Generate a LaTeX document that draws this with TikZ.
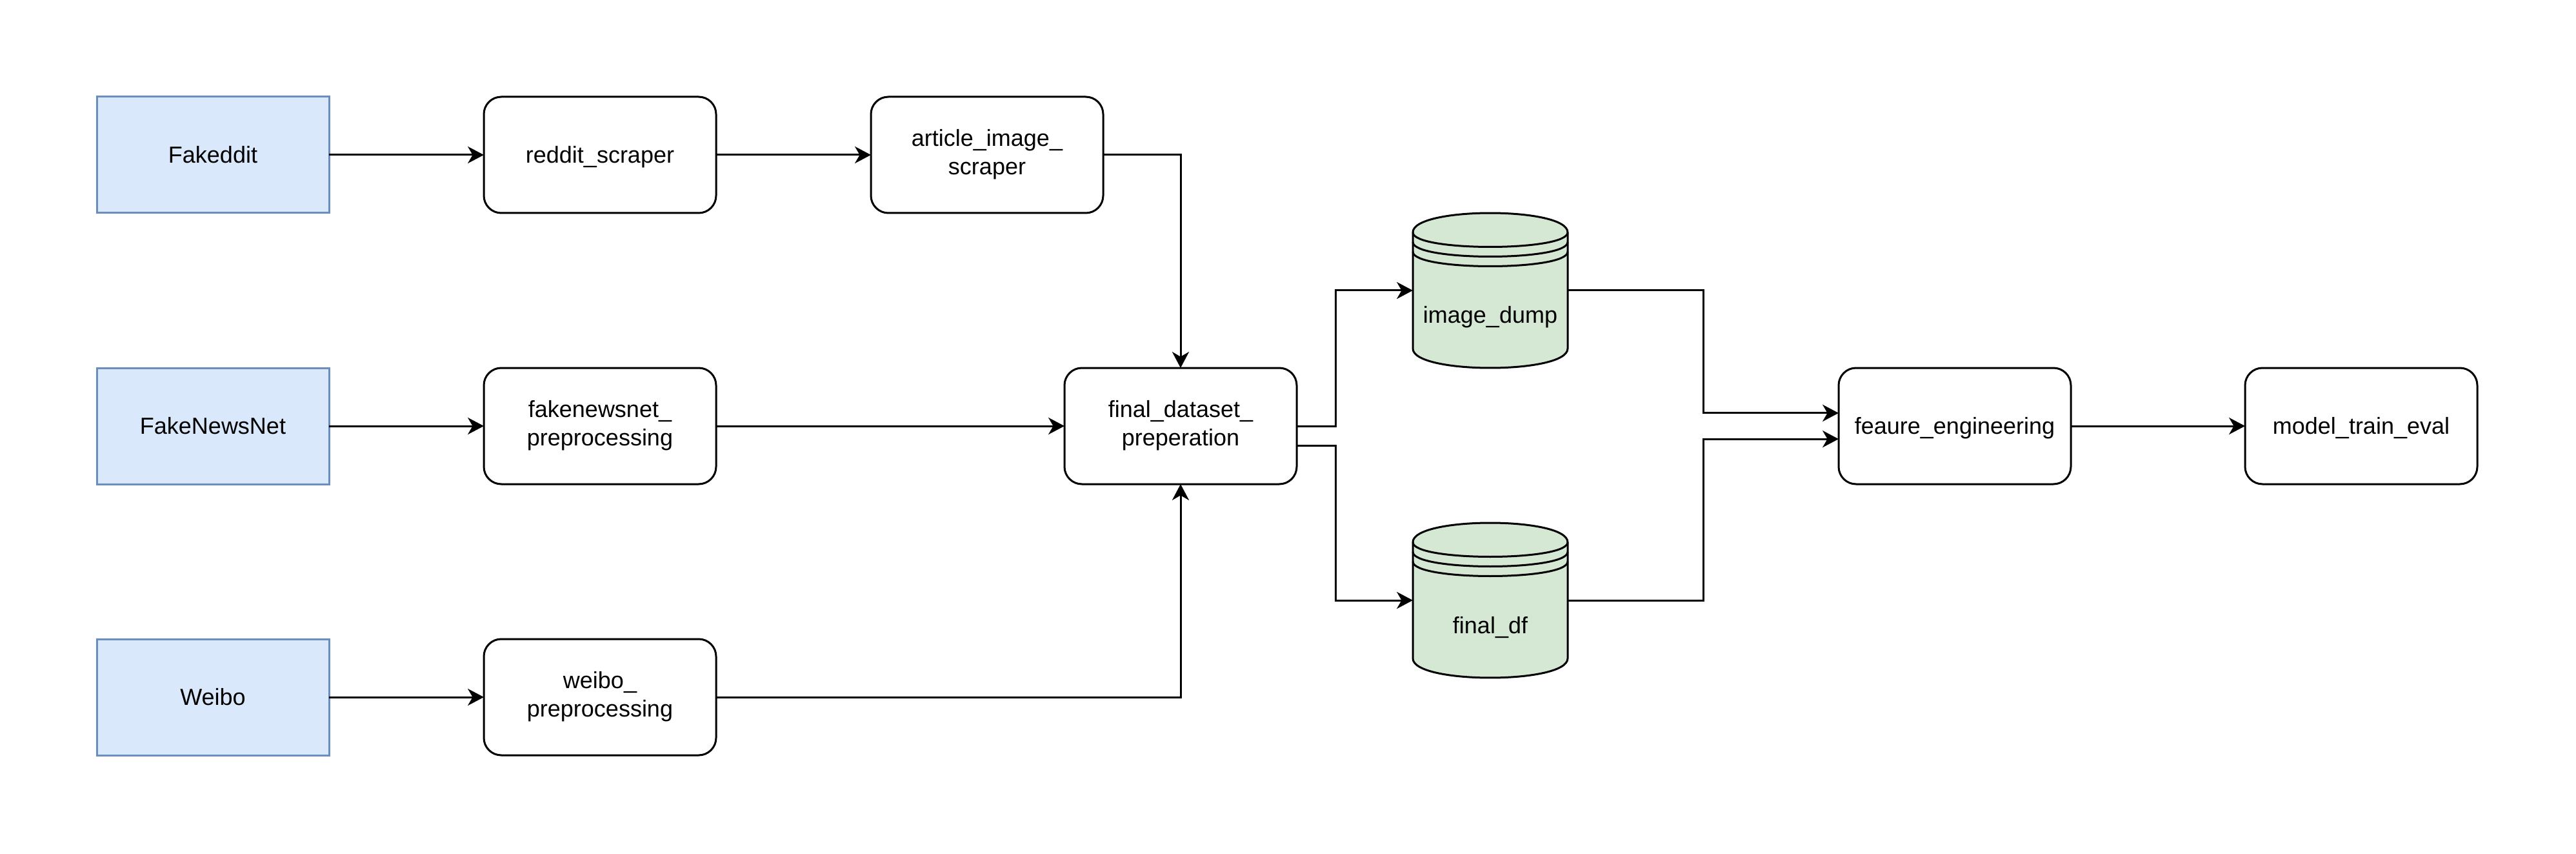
\documentclass[tikz,border=0pt]{standalone}
\usepackage{fontspec}
\setmainfont{Liberation Sans}
\usetikzlibrary{calc,arrows.meta}
\definecolor{sourcefill}{HTML}{DAE8FC}
\definecolor{sourceline}{HTML}{6C8EBF}
\definecolor{storefill}{HTML}{D5E8D4}
\newcommand{\unitsize}{1pt}
\newcommand{\linestrut}{\rule[-3.04pt]{0pt}{14.4pt}}
\newcommand{\makestore}[4]{
	\begin{scope}[shift={(#2,#3)}, line width=1pt]
	\filldraw[fill=storefill] (-40,-30) .. controls (-40,-43.33) and (40,-43.33) .. (40,-30) -- (40,30) .. controls (40,43.33) and (-40,43.33) .. (-40,30) -- cycle;
	\draw (-40,-30) .. controls (-40,-20) and (40,-20) .. (40,-30);
	\draw (-40,-25) .. controls (-40,-15) and (40,-15) .. (40,-25);
	\draw (-40,-20) .. controls (-40,-10) and (40,-10) .. (40,-20);
	\end{scope}
	\node[store] (#1) at (#2,#3) {};
	\node[anchor=base] (#1label) at ($(#1)+(0,17)$) {#4};
}

\begin{document}
\begin{tikzpicture}[x=\unitsize,y=-\unitsize,
	every node/.style={font=\fontsize{12}{14.4}\selectfont, align=center, inner sep=0pt, outer sep=0pt},
	source/.style={draw=sourceline, fill=sourcefill, line width=1pt, minimum width=120pt, minimum height=60pt,
		execute at begin node=\linestrut, execute at end node=\linestrut},
	stage/.style={draw, line width=1pt, rounded corners=9pt, minimum width=120pt, minimum height=60pt,
		execute at begin node=\linestrut, execute at end node=\linestrut},
	store/.style={minimum width=80pt, minimum height=80pt},
	flow/.style={-{Stealth[length=8.3pt,width=8.7pt,inset=2.5pt]}, line width=1pt}]
	\useasboundingbox (0,0) rectangle (1331,441);

	\node[source] (fakeddit) at (110,80) {Fakeddit};
	\node[source] (fakenewsnet) at (110,220) {FakeNewsNet};
	\node[source] (weibo) at (110,360) {Weibo};

	\node[stage] (redditscraper) at (310,80) {reddit\_scraper};
	\node[stage] (articlescraper) at (510,80) {article\_image\_\\scraper};
	\node[stage] (fnnprep) at (310,220) {fakenewsnet\_\\preprocessing};
	\node[stage] (weiboprep) at (310,360) {weibo\_\\preprocessing};
	\node[stage] (finalprep) at (610,220) {final\_dataset\_\\preperation};
	\node[stage] (features) at (1010,220) {feaure\_engineering};
	\node[stage] (model) at (1220,220) {model\_train\_eval};

	\makestore{imagedump}{770}{150}{image\_dump}
	\makestore{finaldf}{770}{310}{final\_df}

	\draw[flow] (fakeddit) -- (redditscraper);
	\draw[flow] (redditscraper) -- (articlescraper);
	\draw[flow] (articlescraper) -| (finalprep);
	\draw[flow] (fakenewsnet) -- (fnnprep);
	\draw[flow] (fnnprep) -- (finalprep);
	\draw[flow] (weibo) -- (weiboprep);
	\draw[flow] (weiboprep) -| (finalprep);
	\draw[flow] (finalprep.east) -- ++(20,0) |- (imagedump.west);
	\draw[flow] ([yshift=-10pt]finalprep.east) -- ++(20,0) |- (finaldf.west);
	\draw[flow] (imagedump.east) -- ++(70,0) |- ([yshift=6.7pt]features.west);
	\draw[flow] (finaldf.east) -- ++(70,0) |- ([yshift=-6.7pt]features.west);
	\draw[flow] (features) -- (model);
\end{tikzpicture}
\end{document}
